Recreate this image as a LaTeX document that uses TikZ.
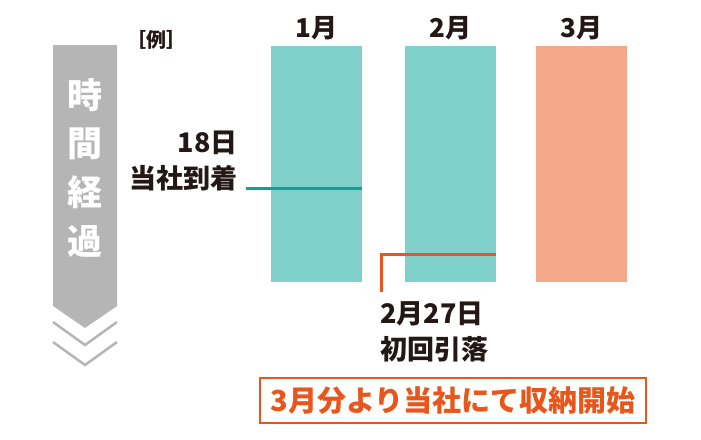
\documentclass[tikz,border=0pt]{standalone}
\usepackage{fontspec}
\setmainfont{Noto Sans CJK JP}
\usetikzlibrary{positioning}
\definecolor{tealbar}{HTML}{7FD0CB}
\definecolor{tealline}{HTML}{10A096}
\definecolor{salmon}{HTML}{F4AA8A}
\definecolor{orangeline}{HTML}{E9561B}
\definecolor{timegray}{HTML}{B5B5B5}
\definecolor{ink}{HTML}{231815}
\tikzset{
  month/.style={minimum width=91pt, minimum height=236pt, inner sep=0pt},
  head/.style={font=\bfseries\fontsize{26}{26}\selectfont, text=ink, inner sep=0pt},
  lab/.style={font=\bfseries\fontsize{27}{36}\selectfont, text=ink, inner sep=0pt},
  vchar/.style={font=\bfseries\fontsize{35}{35}\selectfont, text=white, inner sep=0pt},
}
\begin{document}
\begin{tikzpicture}[x=1pt, y=-1pt]
  \useasboundingbox (0,0) rectangle (701,439);
  % time arrow
  \fill[timegray] (53,45) -- (117,45) -- (117,306) -- (85,328) -- (53,306) -- cycle;
  \foreach \y in {322,342}
    \draw[timegray, line width=2.5pt] (53,\y) -- (85,\y+23) -- (117,\y);
  \foreach \c [count=\i] in {時,間,経,過}
    \node[vchar] (t\i) at (85,{95.5+48.5*(\i-1)}) {\c};
  \node[text=ink, inner sep=0pt, font=\bfseries\fontsize{20}{20}\selectfont] (ex) at (156,39.5) {［例］};
  % months
  \node[month, fill=tealbar] (m1) at (316.5,164) {};
  \node[month, fill=tealbar] (m2) at (450.5,164) {};
  \node[month, fill=salmon] (m3) at (581.5,164) {};
  \foreach \i/\lab in {1/1月, 2/2月, 3/3月}
    \node[head] (h\i) at (m\i.north |- 0,28) {\lab};
  % arrival
  \node[lab, align=right, anchor=east] (arr) at (238,161) {18日\\当社到着};
  \coordinate (arrpt) at (246,188);
  \draw[tealline, line width=3pt] (arrpt) -- (arrpt -| m1.east);
  % first debit
  \coordinate (deb) at (381,254);
  \coordinate (debend) at (381,292);
  \draw[orangeline, line width=3pt] (deb -| m2.east) -- (deb) -- (debend);
  \node[lab, align=left, anchor=west] (debl) at (380,331.5) {2月27日\\初回引落};
  % start
  \node[draw=orangeline, line width=1.5pt, minimum width=386pt, minimum height=45pt, inner sep=0pt,
        text=orangeline, font=\bfseries\fontsize{29}{29}\selectfont] (start) at (453,400.5) {3月分より当社にて収納開始};
\end{tikzpicture}
\end{document}
